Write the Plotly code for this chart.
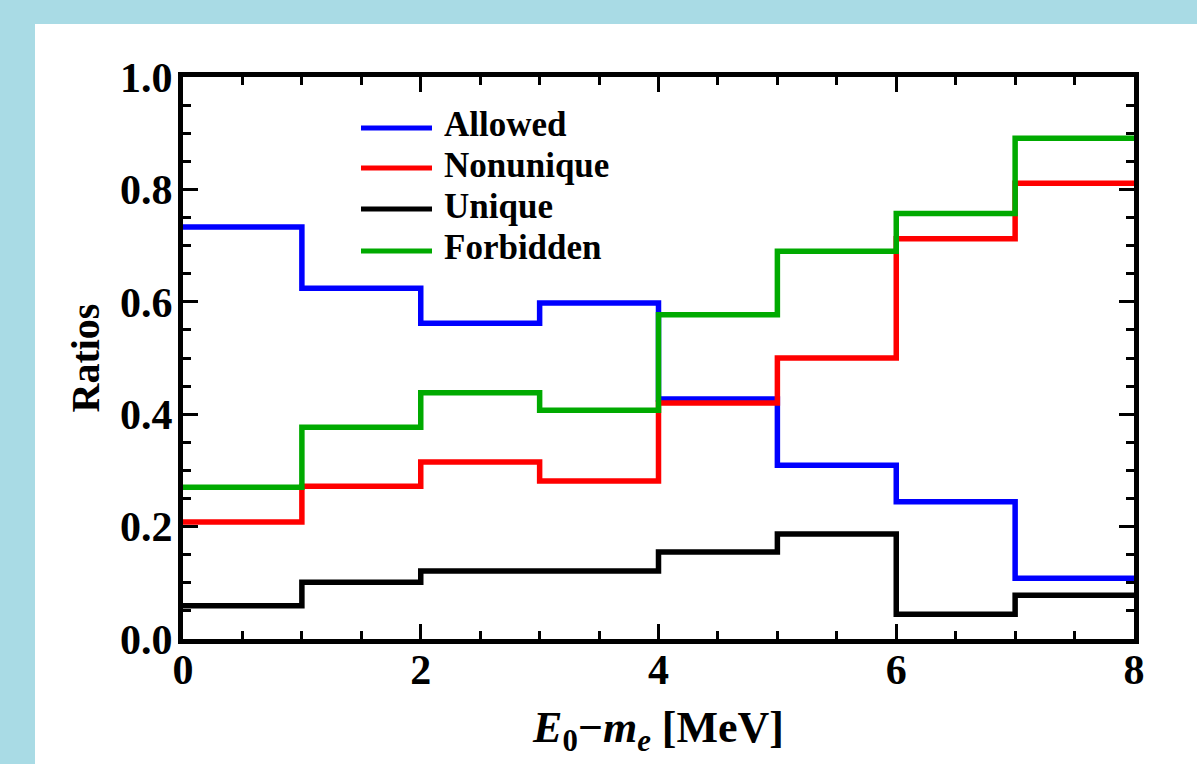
import plotly.graph_objects as go

# Energy bins (MeV) and the fraction of decays in each bin
bin_edges = [0, 1, 2, 3, 4, 5, 6, 7, 8]
allowed = [0.733, 0.624, 0.562, 0.598, 0.427, 0.309, 0.244, 0.108]
nonunique = [0.208, 0.272, 0.315, 0.281, 0.420, 0.500, 0.712, 0.811]
unique = [0.059, 0.101, 0.121, 0.121, 0.155, 0.187, 0.044, 0.078]
forbidden = [0.270, 0.377, 0.438, 0.407, 0.577, 0.690, 0.757, 0.891]

series_names = ["Allowed", "Nonunique", "Unique", "Forbidden"]
series_values = [allowed, nonunique, unique, forbidden]
series_colors = ["#0000ff", "#ff0000", "#000000", "#00aa00"]

x_ticks = [0, 2, 4, 6, 8]
y_ticks = [0.0, 0.2, 0.4, 0.6, 0.8, 1.0]

W, H = 1197, 764
L, R, T, B = 183, 63, 77, 125
PW, PH = W - L - R, H - T - B

FONT = "Liberation Serif"


def px_to_paper(px, py):
    return (px - L) / PW, (H - B - py) / PH


fig = go.Figure()

for name, vals, col in zip(series_names, series_values, series_colors):
    fig.add_trace(go.Scatter(
        x=bin_edges,
        y=vals + [vals[-1]],
        mode="lines",
        line=dict(color=col, width=5.5, shape="hv"),
        name=name,
        showlegend=False,
    ))

shapes = []
annotations = []

# white card over the tinted backdrop
x0, y1 = px_to_paper(35, 24)
x1, y0 = px_to_paper(W, H)
shapes.append(dict(type="rect", xref="paper", yref="paper", x0=x0, x1=x1,
                   y0=y0, y1=y1, fillcolor="white", line=dict(width=0),
                   layer="below"))

# legend block
legend_y = [128, 168, 209, 251]
for name, col, ly in zip(series_names, series_colors, legend_y):
    lx0, lyp = px_to_paper(361, ly)
    lx1, _ = px_to_paper(432, ly)
    shapes.append(dict(type="line", xref="paper", yref="paper",
                       x0=lx0, x1=lx1, y0=lyp, y1=lyp,
                       line=dict(color=col, width=5)))
    tx, ty = px_to_paper(442, ly - 3)
    annotations.append(dict(xref="paper", yref="paper", x=tx, y=ty,
                            text=name, showarrow=False, xanchor="left",
                            yanchor="middle",
                            font=dict(family=FONT, size=35, color="black",
                                      weight="bold")))

axis_common = dict(
    showline=True, linecolor="black", linewidth=5, mirror="allticks",
    ticks="inside", ticklen=15, tickwidth=3, tickcolor="black",
    showgrid=False, zeroline=False,
    tickfont=dict(family=FONT, size=42, color="black", weight="bold"),
)

fig.update_xaxes(
    range=[0, 8], tickvals=x_ticks, ticktext=[str(v) for v in x_ticks],
    ticklabelstandoff=-10,
    minor=dict(dtick=0.5, ticklen=8, tickwidth=3, tickcolor="black",
               ticks="inside"),
    title=dict(text="<i>E</i><sub>0</sub>\u2212<i>m</i><sub><i>e</i></sub> [MeV]",
               font=dict(family=FONT, size=44, color="black", weight="bold"),
               standoff=20),
    **axis_common,
)
fig.update_yaxes(
    range=[0, 1], tickvals=y_ticks, ticktext=[f"{v:.1f}" for v in y_ticks],
    ticklabelstandoff=-3,
    minor=dict(dtick=0.05, ticklen=8, tickwidth=3, tickcolor="black",
               ticks="inside"),
    title=dict(text="Ratios",
               font=dict(family=FONT, size=40, color="black", weight="bold"),
               standoff=10),
    **axis_common,
)

fig.update_layout(
    width=W, height=H,
    margin=dict(l=L, r=R, t=T, b=B, autoexpand=False),
    paper_bgcolor="#a9dbe5",
    plot_bgcolor="white",
    shapes=shapes,
    annotations=annotations,
    showlegend=False,
)

fig.write_html("out.html")
